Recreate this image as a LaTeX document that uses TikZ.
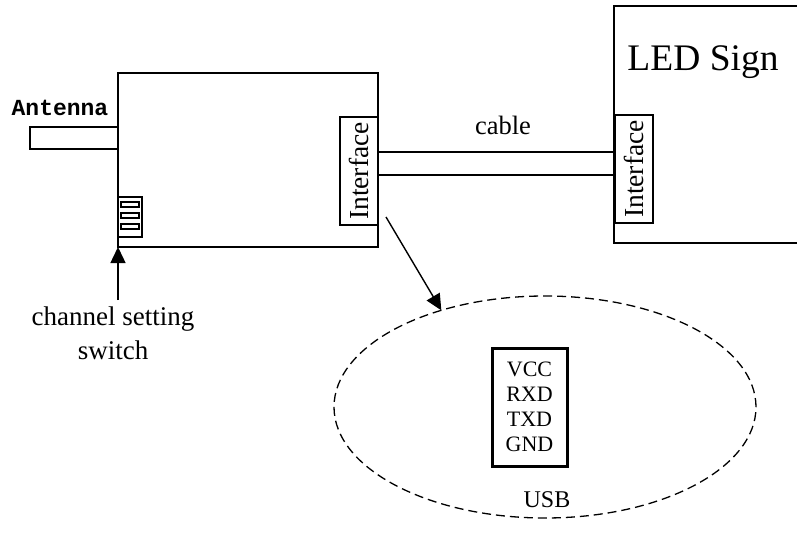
\documentclass[tikz,border=0pt]{standalone}
\usepackage{fontspec}
\setmainfont{Liberation Serif}
\newfontfamily\antennafont{Liberation Mono}
\usetikzlibrary{shapes,arrows.meta,positioning}
\tikzset{
  box/.style={draw, rectangle, line width=1.5pt, inner sep=0pt, outer sep=0pt},
  iface/.style={box, fill=white, rotate=90, minimum width=108pt, minimum height=38pt, font=\fontsize{27.5}{32}\selectfont},
  slot/.style={box, line width=1.3pt, minimum width=18pt, minimum height=5pt},
  wire/.style={line width=1.5pt},
  arrow/.style={line width=1.4pt, -{Triangle[length=16pt,width=15pt]}},
  label/.style={font=\fontsize{26.5}{31}\selectfont, inner sep=0pt},
}
\begin{document}
\begin{tikzpicture}[x=1pt, y=-1pt]
    \useasboundingbox (0,0) rectangle (797,537);
    % receiver
    \node (receiver) at (248,160) [box, minimum width=260pt, minimum height=174pt] {};
    \node (antennaBar) at (74,138) [box, minimum width=88pt, minimum height=22pt] {};
    \node (antennaText) at (60,108) [inner sep=0pt, font=\fontsize{23}{27}\selectfont\antennafont\bfseries] {Antenna};
    \node (switch) at (130,217) [box, minimum width=24pt, minimum height=40pt] {};
    \node (slotA) at (130,204.5) [slot] {};
    \node (slotB) at (130,215.5) [slot] {};
    \node (slotC) at (130,226.5) [slot] {};
    \node (ifaceLeft) at (359,171) [iface] {Interface};
    % sign
    \coordinate (signTop) at (797,6);
    \coordinate (signBottom) at (797,243);
    \draw[wire] (signTop) -| (614,243) -- (signBottom);
    \node (sign) at (703,62) [inner sep=0pt, font=\fontsize{37.5}{43}\selectfont] {LED Sign};
    \node (ifaceRight) at (634,169) [iface] {Interface};
    % cable
    \coordinate (cableTopL) at (378,152);
    \coordinate (cableTopR) at (615,152);
    \coordinate (cableBotL) at (378,175);
    \coordinate (cableBotR) at (615,175);
    \draw[wire] (cableTopL) -- (cableTopR);
    \draw[wire] (cableBotL) -- (cableBotR);
    \node (cable) at (503,125) [label] {cable};
    % switch label
    \node (switchText) at (113,333) [label, align=center, font=\fontsize{27}{34}\selectfont] {channel setting\\switch};
    \coordinate (switchFrom) at (118,300);
    \draw[arrow] (switchFrom) -- (receiver.south west);
    % usb
    \node (usbArea) at (545,407) [draw, dash pattern=on 9pt off 5pt, ellipse, line width=1.3pt, inner sep=0pt, outer sep=0pt, minimum width=422pt, minimum height=222pt] {};
    \node (usbPins) at (529.5,407) [box, line width=3pt, minimum width=75pt, minimum height=118pt, align=center, font=\fontsize{22}{25}\selectfont] {VCC\\RXD\\TXD\\GND};
    \node (usbText) at (547,500) [label, font=\fontsize{24}{28}\selectfont] {USB};
    \coordinate (ifaceOut) at (386,217);
    \draw[arrow] (ifaceOut) -- (usbArea.137);
  \end{tikzpicture}
\end{document}
